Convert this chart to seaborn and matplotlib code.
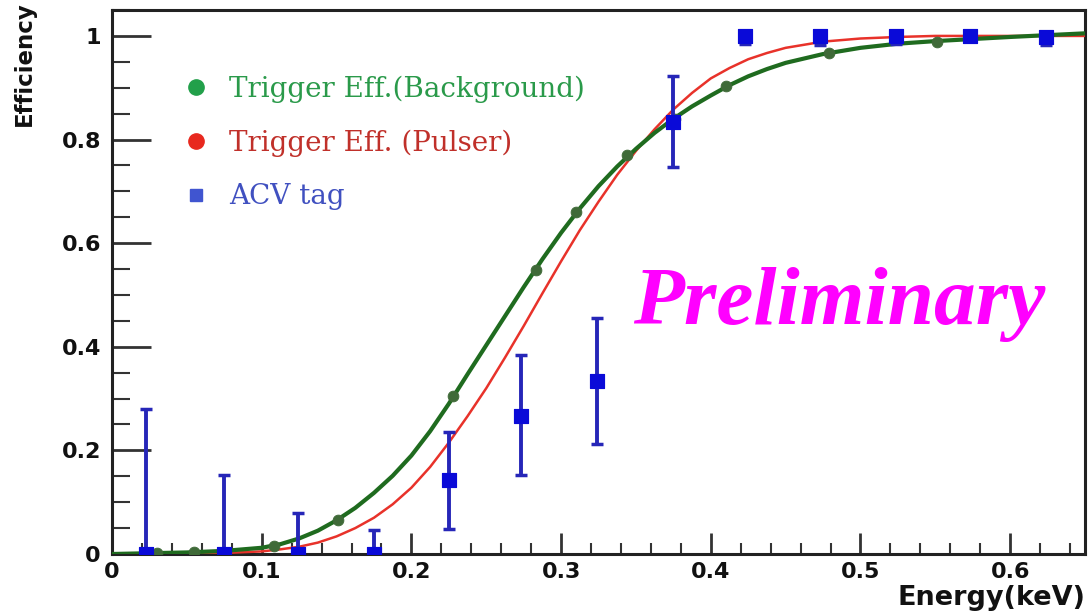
import numpy as np
import pandas as pd
import matplotlib
matplotlib.use("Agg")
import matplotlib.pyplot as plt
import seaborn as sns
from matplotlib.lines import Line2D
from matplotlib.ticker import MultipleLocator

# ---- data ----
bg_x = [0.03, 0.055, 0.108, 0.151, 0.228, 0.283, 0.31, 0.344, 0.376, 0.41, 0.479, 0.551]
bg_y = [0.002, 0.004, 0.015, 0.065, 0.305, 0.548, 0.66, 0.77, 0.84, 0.903, 0.968, 0.989]

curve_x = [0.0, 0.05, 0.075, 0.1, 0.1125, 0.125, 0.1375, 0.15, 0.1625, 0.175, 0.1875, 0.2,
           0.2125, 0.225, 0.2375, 0.25, 0.2625, 0.275, 0.2875, 0.3, 0.3125, 0.325, 0.3375,
           0.35, 0.3625, 0.375, 0.3875, 0.4, 0.4125, 0.425, 0.4375, 0.45, 0.475, 0.5, 0.525,
           0.55, 0.6, 0.65]
bg_curve = [0.0, 0.003, 0.006, 0.012, 0.019, 0.03, 0.045, 0.065, 0.089, 0.118, 0.151, 0.19,
            0.237, 0.29, 0.347, 0.403, 0.459, 0.515, 0.569, 0.62, 0.667, 0.71, 0.748,
            0.782, 0.813, 0.84, 0.864, 0.885, 0.905, 0.922, 0.936, 0.948, 0.965, 0.977, 0.985,
            0.99, 0.998, 1.005]
pulser_curve = [0.0, 0.001, 0.002, 0.005, 0.009, 0.014, 0.022, 0.034, 0.05, 0.07, 0.096, 0.128,
                0.168, 0.215, 0.266, 0.32, 0.379, 0.44, 0.503, 0.565, 0.625, 0.68, 0.732,
                0.778, 0.82, 0.858, 0.89, 0.918, 0.938, 0.955, 0.967, 0.977, 0.989, 0.995,
                0.998, 1.0, 1.0, 1.0]

acv_x = [0.023, 0.075, 0.124, 0.175, 0.225, 0.273, 0.324, 0.375, 0.423, 0.473, 0.524, 0.573, 0.624]
acv_y = [0.0, 0.0, 0.0, 0.0, 0.143, 0.266, 0.334, 0.834, 1.0, 1.0, 1.0, 1.0, 0.997]
acv_lo = [0.0, 0.0, 0.0, 0.0, 0.048, 0.152, 0.212, 0.747, 0.985, 0.982, 0.985, 0.99, 0.982]
acv_hi = [0.28, 0.152, 0.079, 0.046, 0.235, 0.384, 0.456, 0.923, 1.0, 1.0, 1.0, 1.0, 1.0]

labels = ["Trigger Eff.(Background)", "Trigger Eff. (Pulser)", "ACV tag"]
x_ticks = [0, 0.1, 0.2, 0.3, 0.4, 0.5, 0.6]
x_ticklabels = ["0", "0.1", "0.2", "0.3", "0.4", "0.5", "0.6"]
y_ticks = [0, 0.2, 0.4, 0.6, 0.8, 1.0]
y_ticklabels = ["0", "0.2", "0.4", "0.6", "0.8", "1"]

sns.set_style("white")
plt.rcParams['font.family'] = ['DejaVu Sans']

fig = plt.figure(figsize=(10.9, 6.11), dpi=100)
ax = fig.add_axes([0.1028, 0.0933, 0.8926, 0.8903])

curves = pd.DataFrame({"x": curve_x, "bg": bg_curve, "pulser": pulser_curve})
sns.lineplot(data=curves, x="x", y="pulser", ax=ax, color="#e8322a", lw=1.8, zorder=3)
sns.lineplot(data=curves, x="x", y="bg", ax=ax, color="#1f6b1f", lw=3.0, zorder=4)
pts = pd.DataFrame({"x": bg_x, "y": bg_y})
sns.scatterplot(data=pts, x="x", y="y", ax=ax, color="#3f6a38", s=60, edgecolor="#3f6a38",
                zorder=5, marker="o")

acv_y_a = np.array(acv_y)
yerr = np.vstack([acv_y_a - np.array(acv_lo), np.array(acv_hi) - acv_y_a])
ax.errorbar(acv_x, acv_y, yerr=yerr, fmt="none", ecolor="#2626b8", elinewidth=2.8,
            capsize=4, capthick=2.5, zorder=6)
sns.scatterplot(x=acv_x, y=acv_y, ax=ax, color="#0a0ad8", marker="s", s=110,
                edgecolor="#0a0ad8", zorder=7)

ax.set_xlim(0, 0.65)
ax.set_ylim(0, 1.05)
ax.set_xticks(x_ticks)
ax.set_xticklabels(x_ticklabels)
ax.set_yticks(y_ticks)
ax.set_yticklabels(y_ticklabels)
ax.xaxis.set_minor_locator(MultipleLocator(0.02))
ax.yaxis.set_minor_locator(MultipleLocator(0.05))
ax.tick_params(axis="x", which="major", direction="in", length=15, width=2,
               color="#333333", labelsize=16, pad=6, bottom=True, top=False)
ax.tick_params(axis="x", which="minor", direction="in", length=8, width=1.5,
               color="#333333", bottom=True, top=False)
ax.tick_params(axis="y", which="major", direction="in", length=28, width=2,
               color="#333333", labelsize=16, pad=8, left=True, right=False)
ax.tick_params(axis="y", which="minor", direction="in", length=13, width=1.5,
               color="#333333", left=True, right=False)
for lab in ax.get_xticklabels() + ax.get_yticklabels():
    lab.set_fontweight("bold")
    lab.set_color("#111111")
for s in ax.spines.values():
    s.set_color("#222222")
    s.set_linewidth(2.2)

ax.set_xlabel("")
ax.set_ylabel("")
fig.text(0.996, 0.0, "Energy(keV)", ha="right", va="bottom", fontsize=19.5, fontweight="bold",
         color="#111111")
fig.text(0.012, 0.998, "Efficiency", ha="left", va="top", rotation=90, fontsize=16.5,
         fontweight="bold", color="#111111")

handles = [
    Line2D([], [], marker="o", ls="none", color="#22a04a", markersize=11),
    Line2D([], [], marker="o", ls="none", color="#e8281e", markersize=11),
    Line2D([], [], marker="s", ls="none", color="#4055d0", markersize=8),
]
leg = ax.legend(handles, labels, loc="upper left", bbox_to_anchor=(0.032, 0.925),
                frameon=False, handletextpad=0.2, labelspacing=0.95,
                prop={"family": "DejaVu Serif", "size": 20})
for t, c in zip(leg.get_texts(), ["#2a9a4a", "#c0302a", "#4050c0"]):
    t.set_color(c)

ax.text(0.959, 0.458, "Preliminary", transform=ax.transAxes, ha="right", va="center",
        fontsize=60, fontstyle="italic", fontweight="bold", family="Liberation Serif",
        color="#ff00ff")

fig.savefig("out.png", dpi=100)
